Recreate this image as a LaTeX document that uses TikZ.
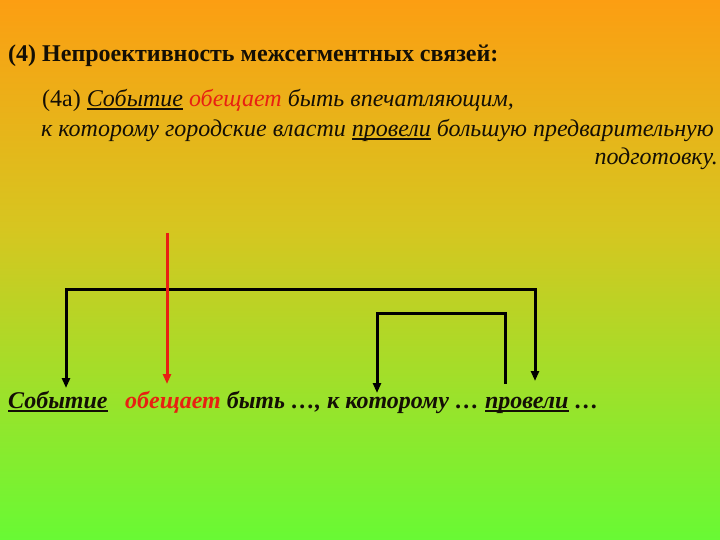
\documentclass[tikz,border=0pt]{standalone}
\usepackage{fontspec}
\setmainfont{Liberation Serif}
\usetikzlibrary{arrows.meta}
\definecolor{topc}{RGB}{252,158,18}
\definecolor{midc}{RGB}{214,198,32}
\definecolor{botc}{RGB}{104,250,52}
\definecolor{redw}{RGB}{232,32,18}
\definecolor{txt}{RGB}{20,15,5}
\newsavebox{\ulbox}
\newcommand{\myul}[1]{\sbox{\ulbox}{#1}\rlap{\rule[-3.5pt]{\wd\ulbox}{2pt}}\usebox{\ulbox}}
\tikzset{
  link/.style={line width=3pt, draw=black, -{Triangle[length=10pt,width=8pt]}},
  plain/.style={line width=3pt, draw=black},
  redlink/.style={line width=3pt, draw=redw, -{Triangle[length=10pt,width=8pt]}},
  t/.style={inner sep=0pt, anchor=base west, text=txt, font=\fontsize{24}{28}\selectfont},
  bw/.style={inner sep=0pt, anchor=base west, text=txt, font=\fontsize{24}{28}\selectfont\bfseries\itshape},
}
\begin{document}
\begin{tikzpicture}[x=1pt,y=-1pt]
\useasboundingbox (0,0) rectangle (720,540);
\shade[top color=topc, bottom color=midc] (0,0) rectangle (720,230);
\shade[top color=midc, bottom color=botc] (0,229.5) rectangle (720,540);
\node[t, font=\fontsize{24}{28}\selectfont\bfseries] (title) at (8,62) {(4) Непроективность межсегментных связей:};
\node[t] (l1) at (42,107) {(4а) \textit{\myul{Событие} \textcolor{redw}{обещает} быть впечатляющим,}};
\node[t, anchor=base east] (l2) at (714,137) {\textit{к которому городские власти \myul{провели} большую предварительную}};
\node[t, anchor=base east] (l3) at (718,165) {\textit{подготовку.}};
% bottom line
\node[bw] (w1) at (8,408) {\myul{Событие}};
\node[bw] (w2) at (125,408) {\textcolor{redw}{обещает} быть …, к которому … \myul{провели} …};
% connectors
\coordinate (hl) at (66,289);
\coordinate (hr) at (535,289);
\coordinate (el) at (66,388);
\coordinate (er) at (535,381);
\coordinate (rt) at (167,233);
\coordinate (rb) at (167,384);
\coordinate (il) at (377,313);
\coordinate (ir) at (505,313);
\coordinate (ilb) at (377,393);
\coordinate (irb) at (505,384);
\draw[plain] (el) ++(0,-10) -- (hl) -- (hr) -- ++(0,10);
\draw[link] (hl) -- (el);
\draw[link] (hr) -- (er);
\draw[plain] (ilb) ++(0,-10) -- (il) -- (ir) -- (irb);
\draw[link] (il) -- (ilb);
\draw[redlink] (rt) -- (rb);
\end{tikzpicture}
\end{document}
